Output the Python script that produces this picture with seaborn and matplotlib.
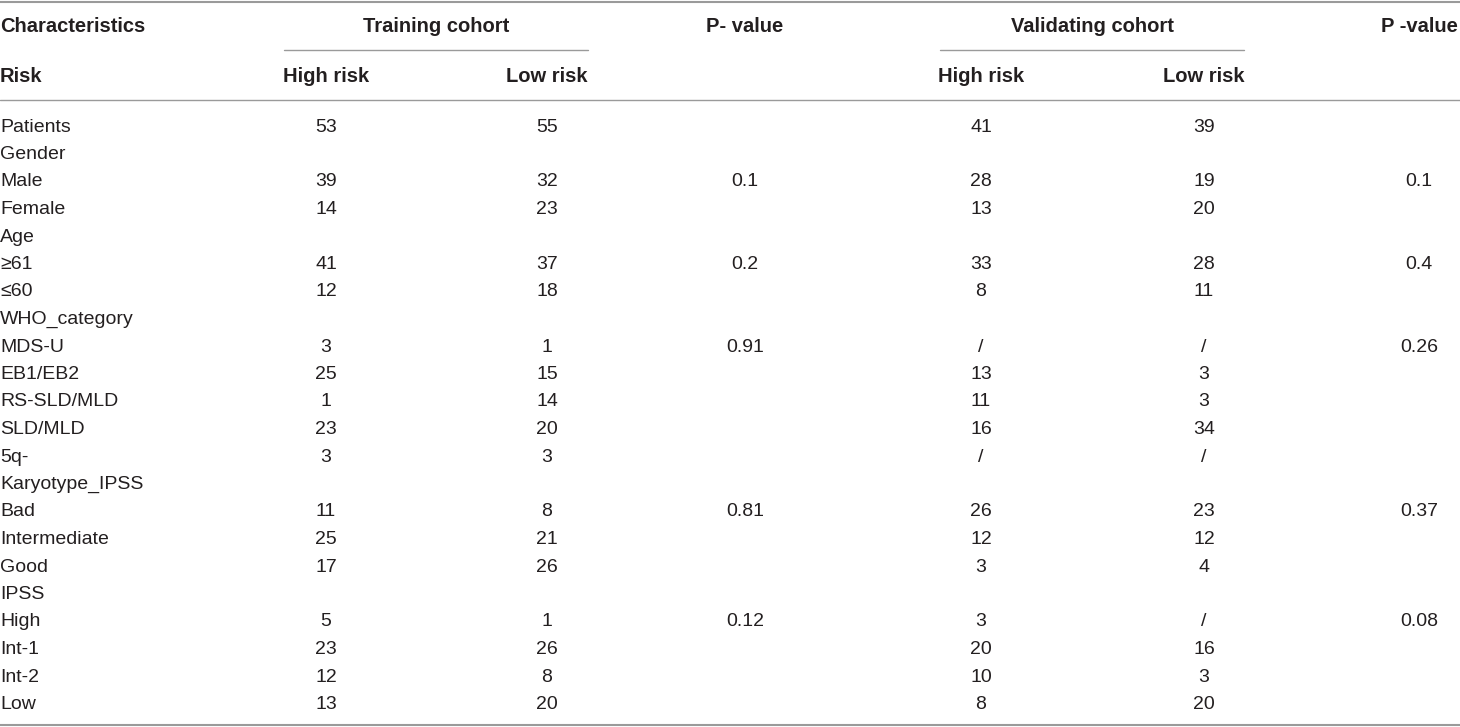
import matplotlib.pyplot as plt
import seaborn as sns
import pandas as pd

# row labels and values (training high/low, p, validating high/low, p)
labels = ['Patients', 'Gender', 'Male', 'Female', 'Age', '≥61', '≤60',
          'WHO_category', 'MDS-U', 'EB1/EB2', 'RS-SLD/MLD', 'SLD/MLD', '5q-',
          'Karyotype_IPSS', 'Bad', 'Intermediate', 'Good', 'IPSS',
          'High', 'Int-1', 'Int-2', 'Low']
train_high = ['53', '', '39', '14', '', '41', '12', '', '3', '25', '1', '23', '3',
              '', '11', '25', '17', '', '5', '23', '12', '13']
train_low = ['55', '', '32', '23', '', '37', '18', '', '1', '15', '14', '20', '3',
             '', '8', '21', '26', '', '1', '26', '8', '20']
train_p = ['', '', '0.1', '', '', '0.2', '', '', '0.91', '', '', '', '',
           '', '0.81', '', '', '', '0.12', '', '', '']
valid_high = ['41', '', '28', '13', '', '33', '8', '', '/', '13', '11', '16', '/',
              '', '26', '12', '3', '', '3', '20', '10', '8']
valid_low = ['39', '', '19', '20', '', '28', '11', '', '/', '3', '3', '34', '/',
             '', '23', '12', '4', '', '/', '16', '3', '20']
valid_p = ['', '', '0.1', '', '', '0.4', '', '', '0.26', '', '', '', '',
           '', '0.37', '', '', '', '0.08', '', '', '']

header_top = ['Characteristics', 'Training cohort', 'P- value', 'Validating cohort', 'P -value']
header_sub = ['Risk', 'High risk', 'Low risk', 'High risk', 'Low risk']

df = pd.DataFrame({'label': labels, 'train_high': train_high, 'train_low': train_low,
                   'train_p': train_p, 'valid_high': valid_high, 'valid_low': valid_low,
                   'valid_p': valid_p})

sns.set_theme(style='white')
plt.rcParams['font.family'] = ['Liberation Sans', 'DejaVu Sans']

TXT = '#231f20'
LINE = '#9a9a9a'
FS = 14
FS_HEAD = 14.5

fig = plt.figure(figsize=(14.6, 7.27), dpi=100)
ax = fig.add_axes([0, 0, 1, 1])
ax.set_xlim(0, 1460)
ax.set_ylim(727, 0)
ax.axis('off')

# column centres
col_x = {'train_high': 326, 'train_low': 547, 'train_p': 745,
         'valid_high': 981, 'valid_low': 1204, 'valid_p': 1419}

y0, dy = 127, 27.5
for i, row in df.iterrows():
    y = y0 + i * dy
    ax.text(0, y, row['label'], ha='left', va='center', fontsize=FS, color=TXT)
    for c, x in col_x.items():
        if row[c]:
            ax.text(x, y, row[c], ha='center', va='center', fontsize=FS, color=TXT)

# header
hy1, hy2 = 27, 76
bold = dict(fontsize=FS_HEAD, color=TXT, fontweight='bold', va='center')
ax.text(0, hy1, header_top[0], ha='left', **bold)
ax.text(436, hy1, header_top[1], ha='center', **bold)
ax.text(745, hy1, header_top[2], ha='center', **bold)
ax.text(1092, hy1, header_top[3], ha='center', **bold)
ax.text(1419, hy1, header_top[4], ha='center', **bold)
ax.text(0, hy2, header_sub[0], ha='left', **bold)
for x, t in zip([326, 547, 981, 1204], header_sub[1:]):
    ax.text(x, hy2, t, ha='center', **bold)

# rules
ax.plot([0, 1460], [1.5, 1.5], color=LINE, lw=1.5)
ax.plot([284, 588], [50, 50], color=LINE, lw=1)
ax.plot([940, 1244], [50, 50], color=LINE, lw=1)
ax.plot([0, 1460], [100, 100], color=LINE, lw=1)
ax.plot([0, 1460], [725, 725], color=LINE, lw=1.5)

fig.savefig('out.png', dpi=100)
